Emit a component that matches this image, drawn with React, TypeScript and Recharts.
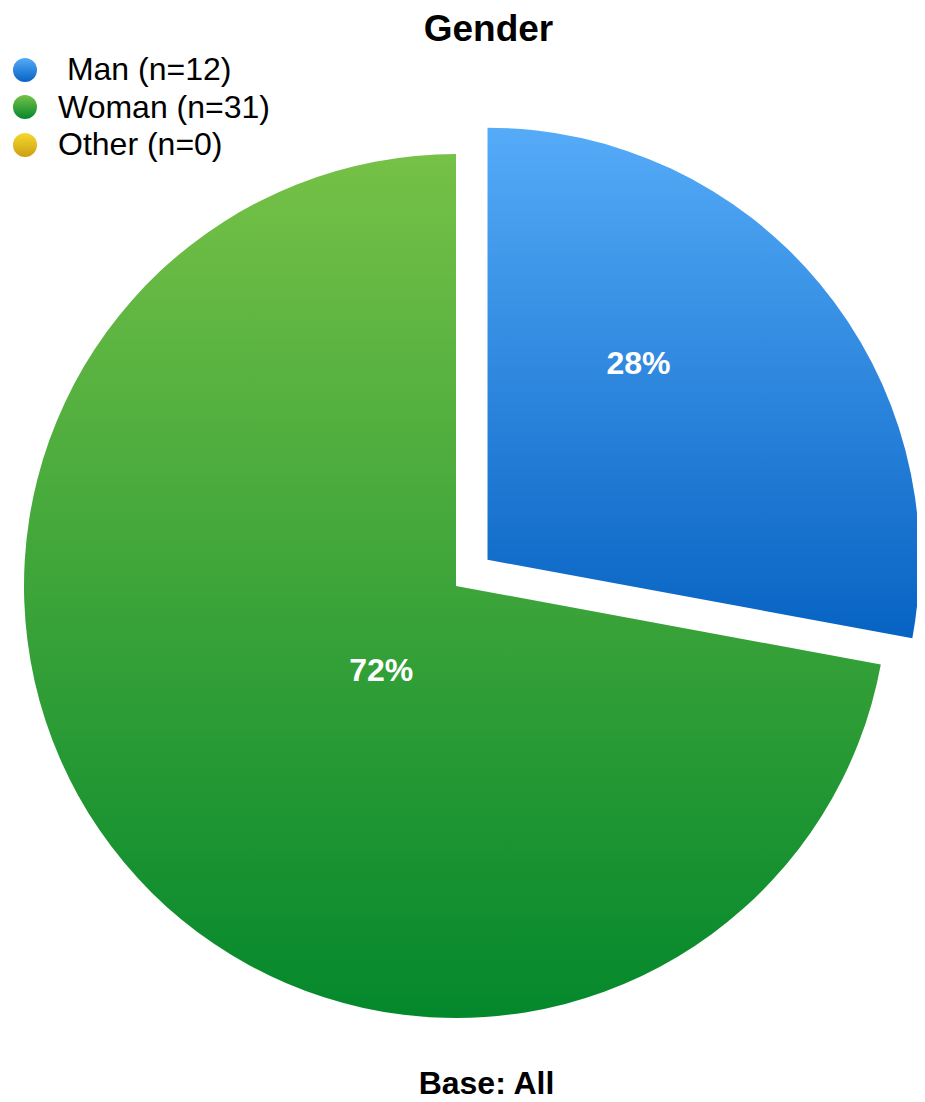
import React from 'react';
import { PieChart, Pie, Cell } from 'recharts';

const categories = ['Man', 'Woman', 'Other'];
const counts = [12, 31, 0];
const legendLabels = [' Man (n=12)', 'Woman (n=31)', 'Other (n=0)'];
const gradTop = ['#55abf8', '#76c147', '#f5d92e'];
const gradBottom = ['#0763c3', '#04882c', '#cc9f12'];

const data = categories.map((name, i) => ({ name, value: counts[i] }));
const total = counts.reduce((a, b) => a + b, 0);

const W = 925;
const H = 1102;
const CX = 456;
const CY = 586;
const R = 432;
const EXPLODE = 41;
const RAD = Math.PI / 180;

// man slice is pulled out along its mid angle
const manMid = 90 - (360 * counts[0]) / total / 2;
const manCx = CX + EXPLODE * Math.cos(manMid * RAD);
const manCy = CY - EXPLODE * Math.sin(manMid * RAD);

const font = '"Liberation Sans", Arial, Helvetica, sans-serif';

// label placement tweaks (radius fraction, angle shift) per category
const labelTweak: Record<string, [number, number]> = {
  Man: [0.575, 12.8],
  Woman: [0.26, 8.5],
};

const makeLabel = (only: string) => (props: any) => {
  const { cx, cy, midAngle, outerRadius, name, value } = props;
  if (name !== only || !value) return null;
  const [f, shift] = labelTweak[name];
  const a = (midAngle + shift) * RAD;
  const r = outerRadius * f;
  const x = cx + r * Math.cos(a);
  const y = cy - r * Math.sin(a);
  return (
    <text
      x={x}
      y={y}
      textAnchor="middle"
      dominantBaseline="central"
      fill="#ffffff"
      fontFamily={font}
      fontWeight="bold"
      fontSize={32}
    >
      {`${Math.round((value / total) * 100)}%`}
    </text>
  );
};

export default function App() {
  return (
    <div style={{ position: 'relative', width: W, height: H, margin: -8, background: '#fff' }}>
      <div
        style={{
          position: 'absolute',
          top: 8,
          left: 0,
          width: W,
          marginLeft: 26,
          textAlign: 'center',
          fontFamily: font,
          fontWeight: 'bold',
          fontSize: 37,
          lineHeight: '42px',
        }}
      >
        Gender
      </div>
      <PieChart width={W} height={H} margin={{ top: 0, right: 0, bottom: 0, left: 0 }}>
        <defs>
          {categories.map((c, i) => (
            <linearGradient key={c} id={`grad${c}`} x1="0" y1="0" x2="0" y2="1">
              <stop offset="0%" stopColor={gradTop[i]} />
              <stop offset="100%" stopColor={gradBottom[i]} />
            </linearGradient>
          ))}
        </defs>
        <Pie
          data={data}
          dataKey="value"
          nameKey="name"
          cx={CX}
          cy={CY}
          outerRadius={R}
          startAngle={90}
          endAngle={-270}
          stroke="none"
          labelLine={false}
          label={makeLabel('Woman')}
          isAnimationActive={false}
        >
          {data.map((d) => (
            <Cell key={d.name} fill={d.name === 'Woman' ? `url(#grad${d.name})` : 'none'} stroke="none" />
          ))}
        </Pie>
        <Pie
          data={data}
          dataKey="value"
          nameKey="name"
          cx={manCx}
          cy={manCy}
          outerRadius={R}
          startAngle={90}
          endAngle={-270}
          stroke="none"
          labelLine={false}
          label={makeLabel('Man')}
          isAnimationActive={false}
        >
          {data.map((d) => (
            <Cell key={d.name} fill={d.name === 'Man' ? `url(#grad${d.name})` : 'none'} stroke="none" />
          ))}
        </Pie>
      </PieChart>
      <div style={{ position: 'absolute', top: 51, left: 12, fontFamily: font, fontSize: 32 }}>
        {categories.map((c, i) => (
          <div key={c} style={{ display: 'flex', alignItems: 'center', height: 37.5 }}>
            <svg width={26} height={26} style={{ marginRight: 20 }}>
              <defs>
                <linearGradient id={`leg${c}`} x1="0" y1="0" x2="0" y2="1">
                  <stop offset="0%" stopColor={gradTop[i]} />
                  <stop offset="100%" stopColor={gradBottom[i]} />
                </linearGradient>
              </defs>
              <circle cx={13} cy={13} r={12} fill={`url(#leg${c})`} />
            </svg>
            <span style={{ whiteSpace: 'pre' }}>{legendLabels[i]}</span>
          </div>
        ))}
      </div>
      <div
        style={{
          position: 'absolute',
          top: 1063,
          left: 0,
          width: W,
          marginLeft: 24,
          textAlign: 'center',
          fontFamily: font,
          fontWeight: 'bold',
          fontSize: 32,
          lineHeight: '40px',
        }}
      >
        Base: All
      </div>
    </div>
  );
}
